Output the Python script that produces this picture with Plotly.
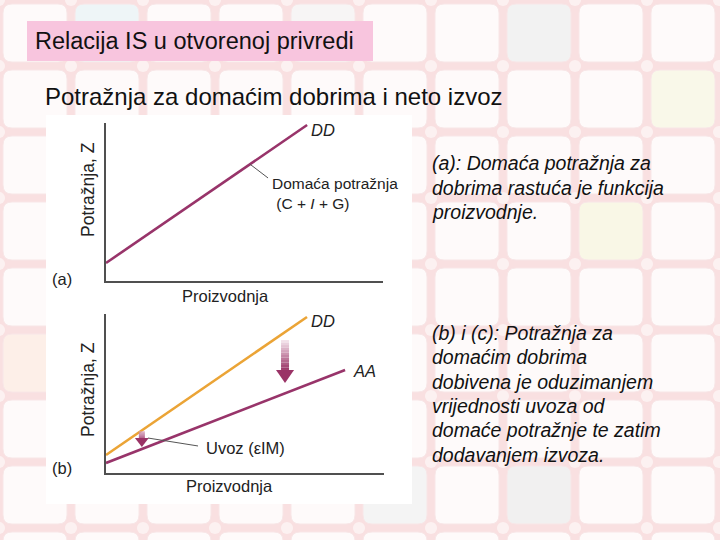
import plotly.graph_objects as go

# ---------------- data ----------------
prod_a = [0, 7.26]
dd_a = [1.14, 9.87]

prod_b_dd = [0, 7.23]
dd_b = [1.13, 9.81]
prod_b_aa = [0, 8.6]
aa_b = [0.63, 6.48]

title_text = "Relacija IS u otvorenoj privredi"
subtitle_text = "Potražnja za domaćim dobrima i neto izvoz"
note_a = ["(a): Domaća potražnja za", "dobrima rastuća je funkcija", "proizvodnje."]
note_b = ["(b) i (c): Potražnja za", "domaćim dobrima", "dobivena je oduzimanjem",
          "vrijednosti uvoza od", "domaće potražnje te zatim", "dodavanjem izvoza."]

PURPLE = "#98346a"
ORANGE = "#eba436"
AXC = "#505050"
FONT = "Arial, Liberation Sans, sans-serif"
W, H = 720, 540


def px(x):
    return x / W


def py(y):
    return 1 - y / H


def rrect(x0, y0, x1, y1, r):
    pts = [
        f"M {px(x0 + r)} {py(y0)}", f"L {px(x1 - r)} {py(y0)}", f"Q {px(x1)} {py(y0)} {px(x1)} {py(y0 + r)}",
        f"L {px(x1)} {py(y1 - r)}", f"Q {px(x1)} {py(y1)} {px(x1 - r)} {py(y1)}",
        f"L {px(x0 + r)} {py(y1)}", f"Q {px(x0)} {py(y1)} {px(x0)} {py(y1 - r)}",
        f"L {px(x0)} {py(y0 + r)}", f"Q {px(x0)} {py(y0)} {px(x0 + r)} {py(y0)}", "Z"]
    return " ".join(pts)


shapes = []
# tiled background
cols = [-1 + 72 * k for k in range(11)]
rows = [66 * k for k in range(9)]
tints = {(1, 0): "#eef5f7", (7, 0): "#f2f2f2", (4, 0): "#f7f5f5", (9, 1): "#f9f8e9",
         (8, 3): "#f9f7e6", (0, 5): "#fdefe8", (7, 7): "#f1f0f0", (5, 7): "#f4f4f4"}
for i, cx in enumerate(cols[:-1]):
    for j, cy in enumerate(rows):
        fill = tints.get((i, j), "#fefafa")
        shapes.append(dict(type="path", xref="paper", yref="paper", layer="below",
                           path=rrect(cx + 4, cy + 4, cx + 68, cy + 62, 9),
                           fillcolor=fill, line=dict(color="#f8e6e7", width=1)))
for cx in cols:
    for cy in rows:
        shapes.append(dict(type="circle", xref="paper", yref="paper", layer="below",
                           x0=px(cx - 6), x1=px(cx + 6), y0=py(cy - 6), y1=py(cy + 6),
                           fillcolor="#fcf1f1", line=dict(width=0)))

# title box
shapes.append(dict(type="rect", xref="paper", yref="paper", layer="below",
                   x0=px(27), x1=px(373), y0=py(21), y1=py(61),
                   fillcolor="#f8c5de", line=dict(width=0)))
# white figure box
shapes.append(dict(type="rect", xref="paper", yref="paper", layer="below",
                   x0=px(46), x1=px(412), y0=py(115), y1=py(504),
                   fillcolor="#ffffff", line=dict(width=0)))

# leader lines
shapes.append(dict(type="line", xref="x", yref="y", x0=5.2, y0=7.39, x1=5.85, y1=6.52,
                   line=dict(color="#555555", width=1)))
shapes.append(dict(type="line", xref="x2", yref="y2", x0=1.51, y0=2.2, x1=3.31, y1=1.7,
                   line=dict(color="#555555", width=1)))


def hexmix(c1, c2, t):
    a = [int(c1[k:k + 2], 16) for k in (1, 3, 5)]
    b = [int(c2[k:k + 2], 16) for k in (1, 3, 5)]
    return "#" + "".join(f"{round(a[k] + (b[k] - a[k]) * t):02x}" for k in range(3))


def grad_arrow(xc, ytop, yshaft, ytip, hw_shaft, hw_head, light):
    n = 12
    for k in range(n):
        y0 = ytop + (yshaft - ytop) * k / n
        y1 = ytop + (yshaft - ytop) * (k + 1) / n
        shapes.append(dict(type="rect", xref="x2", yref="y2", x0=xc - hw_shaft, x1=xc + hw_shaft,
                           y0=y0, y1=y1, fillcolor=hexmix(light, "#9a3366", (k + 0.5) / n),
                           line=dict(width=0)))
    shapes.append(dict(type="path", xref="x2", yref="y2",
                       path=f"M {xc - hw_head} {yshaft} L {xc + hw_head} {yshaft} L {xc} {ytip} Z",
                       fillcolor="#9a3366", line=dict(width=0)))


grad_arrow(6.44, 8.36, 6.48, 5.66, 0.144, 0.324, "#f6e8ef")
grad_arrow(1.29, 2.62, 2.2, 1.64, 0.108, 0.25, "#d9a6c0")

fig = go.Figure()
fig.add_trace(go.Scatter(x=prod_a, y=dd_a, mode="lines", line=dict(color=PURPLE, width=2.6),
                         xaxis="x", yaxis="y", hoverinfo="skip"))
fig.add_trace(go.Scatter(x=prod_b_dd, y=dd_b, mode="lines", line=dict(color=ORANGE, width=2.6),
                         xaxis="x2", yaxis="y2", hoverinfo="skip"))
fig.add_trace(go.Scatter(x=prod_b_aa, y=aa_b, mode="lines", line=dict(color=PURPLE, width=2.6),
                         xaxis="x2", yaxis="y2", hoverinfo="skip"))

ann = []


def txt(x, y, s, size, anchor="left", italic=False, color="#111111", angle=0):
    ann.append(dict(x=px(x), y=py(y), xref="paper", yref="paper", text=s, showarrow=False,
                    xanchor=anchor, yanchor="middle", textangle=angle, align="left",
                    font=dict(family=FONT, size=size, color=color,
                              style="italic" if italic else "normal")))


txt(33, 41, title_text, 23.5)
txt(43, 96, subtitle_text, 24)
for k, s in enumerate(note_a):
    txt(430, 163 + 24.5 * k, s, 19.5, italic=True)
for k, s in enumerate(note_b):
    txt(430, 333 + 24.3 * k, s, 19.5, italic=True)

# chart (a) texts
txt(88, 190, "Potražnja, Z", 17.5, anchor="center", angle=-90, color="#222222")
txt(225, 296, "Proizvodnja", 16.5, anchor="center", color="#222222")
txt(50, 279, "(a)", 16.5, color="#222222")
txt(309, 130, "DD", 16.5, italic=True, color="#222222")
txt(270, 193, "Domaća potražnja<br> (C + <i>I</i> + G)", 15.5, color="#222222")

# chart (b) texts
txt(88, 390, "Potražnja, Z", 17.5, anchor="center", angle=-90, color="#222222")
txt(230, 486, "Proizvodnja", 16.5, anchor="center", color="#222222")
txt(50, 468, "(b)", 16.5, color="#222222")
txt(309, 321, "DD", 16.5, italic=True, color="#222222")
txt(351, 371, "AA", 16.5, italic=True, color="#222222")
txt(204, 448, "Uvoz (εIM)", 16.5, color="#222222")

axis_common = dict(range=[0, 10], showline=True, linecolor=AXC, linewidth=1.6, showgrid=False,
                   zeroline=False, showticklabels=False, ticks="", fixedrange=True)

fig.update_layout(
    width=W, height=H, margin=dict(l=0, r=0, t=0, b=0),
    paper_bgcolor="#f9e0e1", plot_bgcolor="rgba(0,0,0,0)",
    showlegend=False,
    xaxis=dict(domain=[px(106), px(383)], anchor="y", **axis_common),
    yaxis=dict(domain=[py(281), py(123)], anchor="x", **axis_common),
    xaxis2=dict(domain=[px(106), px(384)], anchor="y2", **axis_common),
    yaxis2=dict(domain=[py(473), py(314)], anchor="x2", **axis_common),
    shapes=shapes, annotations=ann,
)

fig.write_html("out.html", config={"displayModeBar": False},
               post_script="document.body.style.margin='0';document.body.style.overflow='hidden';")
